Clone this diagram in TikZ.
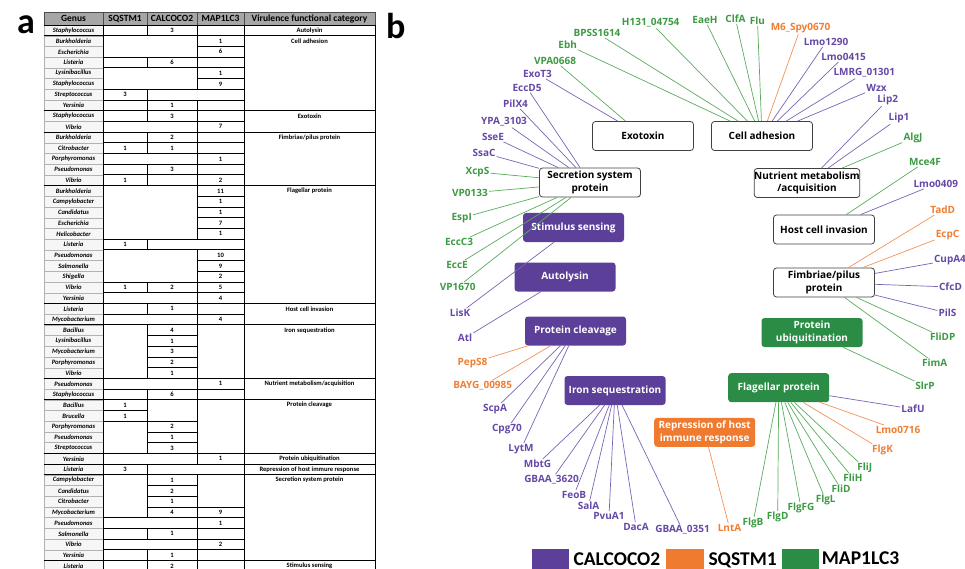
\documentclass[tikz,border=0pt]{standalone}
\usepackage{fontspec}
\setmainfont{Carlito}
\newfontfamily\netfont{Open Sans}

\definecolor{cpurple}{HTML}{5C3F98}
\definecolor{cgreen}{HTML}{2A8C45}
\definecolor{corange}{HTML}{EE7B30}
\definecolor{txtP}{HTML}{6548A6}
\definecolor{txtG}{HTML}{3C9A42}
\definecolor{txtO}{HTML}{EF7D32}
\definecolor{lnP}{HTML}{7A63B5}
\definecolor{lnG}{HTML}{5BAA5E}
\definecolor{lnO}{HTML}{F39256}
\definecolor{hdrgray}{HTML}{A6A6A6}

\tikzset{
  tline/.style={black, line width=0.9pt},
  hdr/.style={font=\bfseries\fontsize{9.5}{10}\selectfont, inner sep=0pt},
  genus/.style={font=\bfseries\itshape\fontsize{6.6}{7}\selectfont, inner sep=0pt},
  val/.style={font=\bfseries\fontsize{6.6}{7}\selectfont, inner sep=0pt},
  catt/.style={font=\bfseries\fontsize{6.6}{7}\selectfont, inner sep=0pt},
  catbox/.style={rounded corners=3pt, minimum width=101pt, minimum height=29pt,
    inner sep=0pt, align=center, font=\netfont\bfseries\fontsize{10}{12.5}\selectfont},
  whitecat/.style={catbox, draw=black!75, line width=0.8pt, fill=white, text=black},
  purplecat/.style={catbox, fill=cpurple, text=white},
  greencat/.style={catbox, fill=cgreen, text=white},
  orangecat/.style={catbox, fill=corange, text=white},
  gene/.style={font=\netfont\bfseries\fontsize{10}{12}\selectfont, inner sep=1pt},
  link/.style={line width=0.7pt},
  legbox/.style={minimum width=37.5pt, minimum height=24pt, inner sep=0pt, anchor=north west},
  legtext/.style={font=\bfseries\fontsize{19.5}{22}\selectfont, anchor=base west, inner sep=0pt},
  panel/.style={font=\bfseries\fontsize{36}{40}\selectfont, anchor=base west, inner sep=0pt},
}

\begin{document}
\begin{tikzpicture}[x=1pt, y=-1pt,
    declare function={ry(\k)=25+(\k-1)*10.71;},
  ]
  \useasboundingbox (0,0) rectangle (965,569);

  % panel labels
  \node[panel] (pa) at (17,33.3) {a};
  \node[panel] (pb) at (386,38.3) {b};

  % table header
  \foreach \xa/\xb/\hd [count=\i] in {44/103/Genus, 103/147/SQSTM1, 147/197/CALCOCO2,
      197/244/MAP1LC3, 244/375/Virulence functional category}{
    \draw[fill=hdrgray, draw=black!70, line width=0.6pt] (\xa,12) rectangle (\xb,25);
    \node[hdr] (hd\i) at ({(\xa+\xb)/2},18.6) {\hd};
  }

  % genus column
  \foreach \g [count=\r] in {Staphylococcus, Burkholderia, Escherichia, Listeria,
      Lysinibacillus, Staphylococcus, Streptococcus, Yersinia, Staphylococcus, Vibrio,
      Burkholderia, Citrobacter, Porphyromonas, Pseudomonas, Vibrio, Burkholderia,
      Campylobacter, Candidatus, Escherichia, Helicobacter, Listeria, Pseudomonas,
      Salmonella, Shigella, Vibrio, Yersinia, Listeria, Mycobacterium, Bacillus,
      Lysinibacillus, Mycobacterium, Porphyromonas, Vibrio, Pseudomonas, Staphylococcus,
      Bacillus, Brucella, Porphyromonas, Pseudomonas, Streptococcus, Yersinia, Listeria,
      Campylobacter, Candidatus, Citrobacter, Mycobacterium, Pseudomonas, Salmonella,
      Vibrio, Yersinia, Listeria}{
    \draw[fill=gray!7, draw=gray!60, line width=0.4pt] (44,{ry(\r)}) rectangle (103,{ry(\r+1)});
    \node[genus] (gen\r) at (73.5,{ry(\r)+5.35}) {\g};
  }

  % data grid
  \foreach \r in {1,...,52}
    \draw[tline] (103,{ry(\r)}) -- (244,{ry(\r)});
  \foreach \xv in {103,147,197,244}
    \draw[tline] (\xv,25) -- (\xv,575);

  % merged empty cells
  \foreach \xa/\xb/\ra/\rb in {103/197/2/3, 103/197/5/6, 147/244/7/7, 103/197/10/10,
      103/197/13/13, 103/197/16/20, 147/244/21/21, 103/197/22/24, 103/197/26/26,
      103/197/28/28, 103/147/29/33, 197/244/29/33, 103/197/34/34, 147/197/36/37,
      197/244/36/40, 103/147/38/40, 103/197/41/41, 147/244/42/42, 103/147/43/46,
      197/244/43/45, 103/197/47/47, 103/197/49/49}
    \draw[tline, fill=white] (\xa,{ry(\ra)}) rectangle (\xb,{ry(\rb+1)});

  % counts
  \foreach \r/\xc/\v [count=\i] in {1/172/3, 2/220.5/1, 3/220.5/6, 4/172/6, 5/220.5/1,
      6/220.5/9, 7/125/3, 8/172/1, 9/172/3, 10/220.5/7, 11/172/2, 12/125/1, 12/172/1,
      13/220.5/1, 14/172/3, 15/125/1, 15/220.5/2, 16/220.5/11, 17/220.5/1, 18/220.5/1,
      19/220.5/7, 20/220.5/1, 21/125/1, 22/220.5/10, 23/220.5/9, 24/220.5/2, 25/125/1,
      25/172/2, 25/220.5/5, 26/220.5/4, 27/172/1, 28/220.5/4, 29/172/4, 30/172/1,
      31/172/3, 32/172/2, 33/172/1, 34/220.5/1, 35/172/6, 36/125/1, 37/125/1, 38/172/2,
      39/172/1, 40/172/3, 41/220.5/1, 42/125/3, 43/172/1, 44/172/2, 45/172/1, 46/172/4,
      46/220.5/9, 47/220.5/1, 48/172/1, 49/220.5/2, 50/172/1, 51/172/2}
    \node[val] (val\i) at (\xc,{ry(\r)+5.35}) {\v};

  % categories
  \foreach \ra/\rb/\cat [count=\i] in {1/1/Autolysin, 2/8/Cell adhesion, 9/10/Exotoxin,
      11/15/{Fimbriae/pilus protein}, 16/26/Flagellar protein, 27/28/Host cell invasion,
      29/33/Iron sequestration, 34/35/{Nutrient metabolism/acquisition},
      36/40/Protein cleavage, 41/41/Protein ubiquitination,
      42/42/Repression of host immure response, 43/50/Secretion system protein,
      51/51/Stimulus sensing}{
    \draw[tline, fill=white] (244,{ry(\ra)}) rectangle (375,{ry(\rb+1)});
    \draw[tline] (44,{ry(\ra)}) -- (375,{ry(\ra)});
    \node[catt] (cat\i) at (309.5,{ry(\ra)+5.35}) {\cat};
  }

  % category boxes
  \node[whitecat] (exo) at (643,136) {Exotoxin};
  \node[whitecat] (cadh) at (762,136) {Cell adhesion};
  \node[whitecat] (sec) at (590,182.5) {Secretion system\\protein};
  \node[whitecat] (nutr) at (807,183) {Nutrient metabolism\\/acquisition};
  \node[purplecat] (stim) at (573.5,227.5) {Stimulus sensing};
  \node[whitecat] (hinv) at (824,229.5) {Host cell invasion};
  \node[purplecat] (auto) at (565,277) {Autolysin};
  \node[whitecat] (fimb) at (824,282.5) {Fimbriae/pilus\\protein};
  \node[purplecat] (pclv) at (575.5,331) {Protein cleavage};
  \node[greencat] (ubiq) at (812,332.5) {Protein\\ubiquitination};
  \node[purplecat] (iron) at (615,390.5) {Iron sequestration};
  \node[greencat] (flag) at (778.7,387.7) {Flagellar protein};
  \node[orangecat] (repr) at (704.7,432.3) {Repression of host\\immune response};

  % proteins and their links
  \foreach \px/\py/\txt/\cl/\tg [count=\i] in {
      650.7/22.7/{H131\_04754}/G/cadh, 597/33/BPSS1614/G/cadh, 567.7/45/Ebh/G/cadh,
      705/20/EaeH/G/cadh, 735.5/19/ClfA/G/cadh, 757.5/21/Flu/G/cadh,
      800.5/28/{M6\_Spy0670}/O/cadh, 826/42/Lmo1290/P/cadh, 843.5/57/Lmo0415/P/cadh,
      864.3/73/{LMRG\_01301}/P/cadh, 876.5/88/Wzx/P/cadh,
      555/61/VPA0668/G/exo, 537.5/74/ExoT3/P/exo,
      527/88/EccD5/P/sec, 515.5/104/PilX4/P/sec, 504/122/{YPA\_3103}/P/sec,
      493/137/SseE/P/sec, 484/153/SsaC/P/sec, 477.5/172/XcpS/G/sec,
      470/193/VP0133/G/sec, 461.7/218/EspI/G/sec, 459/242/EccC3/G/sec,
      457/265/EccE/G/sec, 457.7/287/VP1670/G/sec,
      460/313/LisK/P/stim, 465/338/Atl/P/auto,
      472.5/363/PepS8/O/pclv, 482.7/386/{BAYG\_00985}/O/pclv, 495/409/ScpA/P/pclv,
      507/429/Cpg70/P/pclv, 521/449/LytM/P/pclv,
      537.5/464/MbtG/P/iron, 551.5/480/{GBAA\_3620}/P/iron, 574/495/FeoB/P/iron,
      588.5/506/SalA/P/iron, 609/516/PvuA1/P/iron, 636/527/DacA/P/iron,
      682.5/530/{GBAA\_0351}/P/iron,
      729.5/528/LntA/O/repr,
      753/523/FlgB/G/flag, 777.7/517/FlgD/G/flag, 801/508/FlgFG/G/flag,
      825.7/500/FlgL/G/flag, 841/489/FliD/G/flag, 853/478/FliH/G/flag,
      864.7/468/FliJ/G/flag, 882.5/450/FlgK/O/flag, 898/430/Lmo0716/O/flag,
      913/409/LafU/P/flag,
      925/386/SlrP/G/ubiq,
      942.7/210/TadD/O/fimb, 947.5/235/EcpC/O/fimb, 950/260/CupA4/P/fimb,
      950.5/287/CfcD/P/fimb, 947.5/313/PilS/P/fimb, 942.7/337/FliDP/G/fimb,
      934.7/363/FimA/G/fimb,
      925/162/Mce4F/G/hinv, 935.8/184/Lmo0409/P/hinv,
      887.7/100/Lip2/P/nutr, 899/118/Lip1/P/nutr, 913/138/AlgJ/G/nutr}{
    \node[gene, text=txt\cl] (g\i) at (\px,\py) {\txt};
    \draw[link, draw=ln\cl] (g\i) -- (\tg);
  }

  % legend
  \node[legbox, fill=cpurple] (lgP) at (531.7,548.3) {};
  \node[legtext] (ltP) at (573.3,565.7) {CALCOCO2};
  \node[legbox, fill=corange] (lgO) at (666,548.3) {};
  \node[legtext] (ltO) at (708.3,565.7) {SQSTM1};
  \node[legbox, fill=cgreen] (lgG) at (781.7,548.3) {};
  \node[legtext] (ltG) at (821.7,564.5) {MAP1LC3};
\end{tikzpicture}
\end{document}
